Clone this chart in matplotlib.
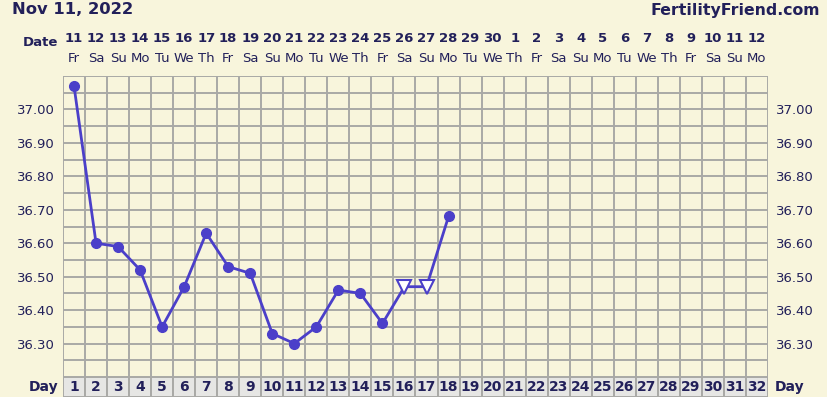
import numpy as np
import matplotlib
matplotlib.use('Agg')
import matplotlib.pyplot as plt
from matplotlib.transforms import blended_transform_factory

# chart data
days = [1, 2, 3, 4, 5, 6, 7, 8, 9, 10, 11, 12, 13, 14, 15, 16, 17, 18]
temps = [37.07, 36.60, 36.59, 36.52, 36.35, 36.47, 36.63, 36.53, 36.51,
         36.33, 36.30, 36.35, 36.46, 36.45, 36.36, 36.47, 36.47, 36.68]
open_days = [16, 17]  # open triangles
dates = ['11', '12', '13', '14', '15', '16', '17', '18', '19', '20', '21', '22',
         '23', '24', '25', '26', '27', '28', '29', '30', '1', '2', '3', '4',
         '5', '6', '7', '8', '9', '10', '11', '12']
weekdays = ['Fr', 'Sa', 'Su', 'Mo', 'Tu', 'We', 'Th'] * 5
weekdays = weekdays[:32]
yticks = [36.30, 36.40, 36.50, 36.60, 36.70, 36.80, 36.90, 37.00]

bg = '#f8f5dc'
navy = '#22205a'
linec = '#4b3fc9'
gridc = '#a9a9a6'

fig = plt.figure(figsize=(8.28, 3.97), dpi=100, facecolor=bg)
ax = fig.add_axes([63/828, 20/397, 705/828, 301/397], facecolor=bg)
ax.set_xlim(0.5, 32.5)
ax.set_ylim(36.20, 37.10)

for x in np.arange(0.5, 33, 1):
    ax.axvline(x, color=gridc, lw=1.4, zorder=1)
for y in np.arange(36.20, 37.101, 0.05):
    ax.axhline(y, color=gridc, lw=1.4, zorder=1)
for s in ax.spines.values():
    s.set_visible(False)

ax.set_xticks([])
ax.set_yticks(yticks)
ax.set_yticklabels(['%.2f' % v for v in yticks])
ax.tick_params(axis='y', length=0, labelsize=9.5, labelcolor=navy,
               left=True, right=True, labelleft=True, labelright=True, pad=6)

ax.plot(days, temps, color=linec, lw=2, zorder=3)
filled = [(d, t) for d, t in zip(days, temps) if d not in open_days]
hollow = [(d, t) for d, t in zip(days, temps) if d in open_days]
ax.plot([p[0] for p in filled], [p[1] for p in filled], 'o', color=linec,
        ms=7, zorder=4, linestyle='none')
ax.plot([p[0] for p in hollow], [p[1] for p in hollow], 'v', mfc='white',
        mec=linec, mew=1.5, ms=10, zorder=4, linestyle='none')

# day row below the grid
dax = fig.add_axes([63/828, 0, 705/828, 20/397])
dax.set_xlim(0.5, 32.5)
dax.set_ylim(0, 1)
dax.axis('off')
dax.bar(range(1, 33), 1, width=1, bottom=0, color='#e6e6e4',
        edgecolor=gridc, lw=1.4)
for i in range(1, 33):
    dax.text(i, 0.5, str(i), ha='center', va='center', fontsize=10,
             fontweight='bold', color=navy)

tr = blended_transform_factory(ax.transData, fig.transFigure)
for i in range(32):
    fig.text(i + 1, 1 - 38/397, dates[i], transform=tr, ha='center',
             va='center', fontsize=9.5, fontweight='bold', color=navy)
    fig.text(i + 1, 1 - 59/397, weekdays[i], transform=tr, ha='center',
             va='center', fontsize=9.5, color=navy)

fig.text(58/828, 1 - 42/397, 'Date', ha='right', va='center', fontsize=9.5,
         fontweight='bold', color=navy)
fig.text(58/828, 10/397, 'Day', ha='right', va='center', fontsize=10,
         fontweight='bold', color=navy)
fig.text(775/828, 10/397, 'Day', ha='left', va='center', fontsize=10,
         fontweight='bold', color=navy)
fig.text(12/828, 1 - 10/397, 'Nov 11, 2022', ha='left', va='center',
         fontsize=11.8, fontweight='bold', color=navy)
fig.text(820/828, 1 - 10/397, 'FertilityFriend.com', ha='right', va='center',
         fontsize=11.3, fontweight='bold', color=navy)

fig.savefig('out.png', dpi=100, facecolor=bg)
